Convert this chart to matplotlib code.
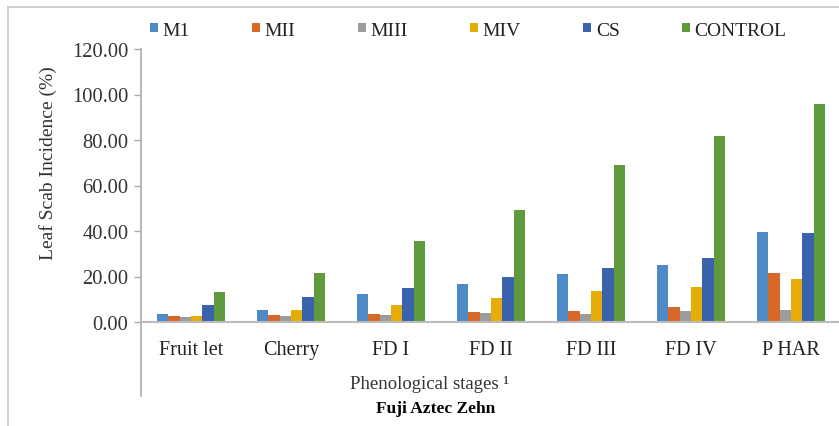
import numpy as np
from matplotlib import pyplot as plt
from matplotlib.lines import Line2D

stages = ["Fruit let", "Cherry", "FD I", "FD II", "FD III", "FD IV", "P HAR"]
series = ["M1", "MII", "MIII", "MIV", "CS", "CONTROL"]

m1 = [3.6, 5.1, 12.4, 16.5, 21.2, 25.2, 39.7]
m2 = [2.6, 3.2, 3.6, 4.3, 4.8, 6.7, 21.7]
m3 = [2.0, 2.5, 3.0, 3.9, 3.6, 4.7, 5.4]
m4 = [2.6, 5.1, 7.5, 10.7, 13.8, 15.2, 19.0]
cs = [7.3, 11.0, 14.8, 19.8, 23.9, 28.0, 39.2]
control = [13.0, 21.5, 35.5, 49.2, 68.8, 81.9, 95.9]

colors = ["#4e8bc6", "#d8682a", "#9c9c9c", "#e6ad08", "#3b63ad", "#5f9a3c"]

plt.rcParams['font.family'] = ['Liberation Serif', 'DejaVu Serif']

fig = plt.figure(figsize=(8.39, 4.27), dpi=100)
ax = fig.add_axes([141 / 839, 104 / 427, 700 / 839, 273 / 427])

x = np.arange(len(stages))
w = 0.113
for k, vals in enumerate([m1, m2, m3, m4, cs, control]):
    ax.bar(x + (k - 2.5) * w, vals, w, color=colors[k], label=series[k])

ax.set_xlim(-0.5, 6.5)
ax.set_ylim(0, 120)
ax.set_yticks(np.arange(0, 121, 20))
ax.set_yticklabels(["%.2f" % v for v in np.arange(0, 121, 20)], fontsize=14.8, color="#333333")
ax.set_xticks(x)
ax.set_xticklabels(stages, fontsize=14.5, color="#222222")
ax.tick_params(axis="x", length=0, pad=13)
ax.tick_params(axis="y", length=5, width=1, color="#aaaaaa", pad=4)

for s in ["top", "right"]:
    ax.spines[s].set_visible(False)
ax.spines["bottom"].set_color("#bbbbbb")
ax.spines["bottom"].set_linewidth(1.5)
ax.spines["left"].set_color("#aaaaaa")
ax.spines["left"].set_linewidth(1.2)
ax.spines["left"].set_bounds(-32.5, 120)

fig.text(48 / 839, 1 - 163 / 427, "Leaf Scab Incidence (%)", rotation=90,
         ha="center", va="center", fontsize=14, color="#333333")
fig.text(430 / 839, 1 - 385 / 427, "Phenological stages \u00b9", ha="center", va="center",
         fontsize=13.5, color="#333333")
fig.text(436 / 839, 1 - 409 / 427, "Fuji Aztec Zehn", ha="center", va="center",
         fontsize=12.5, fontweight="bold", color="black")

ax.legend(loc="center left", bbox_to_anchor=(150 / 839, 1 - 31 / 427),
          bbox_transform=fig.transFigure, ncol=6, frameon=False, fontsize=14,
          handlelength=0.4, handleheight=0.4, handletextpad=0.25, columnspacing=3.2,
          borderpad=0, borderaxespad=0, labelcolor="#222222")

# outer frame
fig.add_artist(Line2D([8 / 839, 1], [1 - 8 / 427, 1 - 8 / 427], color="#c8c8c8", lw=1.2))
fig.add_artist(Line2D([8 / 839, 8 / 839], [0, 1 - 8 / 427], color="#c8c8c8", lw=1.2))

fig.savefig("out.png", dpi=100)
